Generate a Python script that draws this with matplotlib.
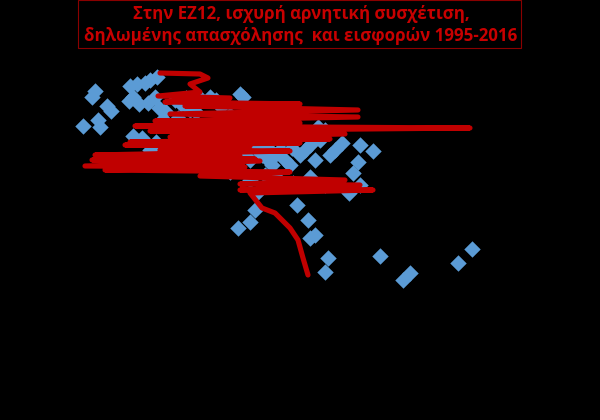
import matplotlib
matplotlib.use("Agg")
import matplotlib.pyplot as plt
from matplotlib.patches import Rectangle

TITLE = "Στην ΕΖ12, ισχυρή αρνητική συσχέτιση,\nδηλωμένης απασχόλησης  και εισφορών 1995-2016"

# scatter: declared employment (x) vs contributions (y), arbitrary index units
emp = [0.75, 3, 3.75, 4.5, 5, 6.75, 7.75, 12.5, 14.25, 12.25, 13.25, 16.25, 17.5, 19.25,
       18.75, 17, 14.75, 19.75, 13.25, 15.5, 20.75, 21.25, 23.75, 25.25, 24.5, 26.5, 27.5,
       29, 30, 32.5, 34, 35.25, 40, 40.75, 37.5, 36.5, 35, 37.5, 19, 23.5, 17.5, 21.25, 30,
       32.5, 37.5, 41.25, 42.5, 43.75, 45.5, 47, 48, 48.75, 50, 51.25, 53, 53.75, 55, 56.25,
       57.5, 58.75, 60, 59.5, 61.25, 62.5, 63.75, 65.5, 70, 73.25, 69.5, 68.25, 70, 67.25,
       61.25, 57.5, 53.25, 49.25, 46.25, 42.5, 37.5, 44.25, 43.75, 42.5, 39.5, 54.25, 57,
       58.75, 57.5, 62, 61.25, 75, 82.5, 80.75, 94.5, 98, 46.25, 50.75, 52.5, 47.5, 26.25]
contrib = [77, 91.5, 94.5, 80, 76.5, 87, 84.5, 97, 98, 89.5, 91.5, 98.5, 100, 101.5,
           91.5, 88.5, 88, 86, 72, 71, 80.5, 84.5, 90, 88, 81, 91, 85,
           84, 91, 91.5, 90, 86.5, 93, 91.5, 82.5, 78, 71, 70, 69, 68, 65, 65, 65,
           64, 61, 62.5, 60, 66, 62.5, 60, 57.5, 62.5, 65, 60, 66, 70, 62.5, 65,
           67.5, 60, 70, 76.5, 75, 62.5, 65, 68.5, 67.5, 64.5, 59, 53.5, 47.5, 43.5,
           47.5, 51.5, 48.5, 51, 52.5, 50, 54, 43.5, 35, 29, 26, 37.5, 30,
           22.5, 21, 11, 4, 12, 3.5, 0, 8.5, 15.5, 67.5, 70, 57.5, 65, 65]

# fitted curve as it was drawn (points in original, unsorted order)
fit_x = [20, 30, 32, 27.5, 30, 19.5, 37.5, 21.25, 55, 26.25, 69.5, 22.5, 69.5, 18.75, 55,
         13.75, 97.5, 17.5, 66.25, 22.5, 62.5, 12.5, 55, 11.25, 42.5, 20, 52.5, 3.75, 40,
         5, 43.75, 3, 45, 1.25, 41.25, 6.25, 52.5, 30, 66.25, 40, 70, 40, 73.25, 42.5, 45.5,
         48.75, 52.5, 54.5, 55.75, 57]
fit_y = [103.5, 103, 101, 98, 94, 92, 91, 89, 88, 87, 85, 83, 81.5, 79.5, 78.5,
         77, 76, 74.5, 73, 71.5, 70.5, 69, 68.5, 67.5, 67, 65, 64.5, 62.5, 62,
         61, 60.5, 60, 59.5, 57, 56.5, 55, 54, 52, 50, 48, 47.5, 45, 45, 43.5, 36,
         33.5, 26, 20, 11, 2.5]

BLUE = "#5B9BD5"
RED = "#C00000"

fig = plt.figure(figsize=(6, 4.2), dpi=100, facecolor="black")
ax = fig.add_axes([0.1, 120 / 420, 440 / 600, 240 / 420])
ax.set_facecolor("black")
ax.scatter(emp, contrib, marker="D", s=70, color=BLUE, linewidths=0, zorder=2)
ax.plot(fit_x, fit_y, color=RED, lw=3.7, solid_joinstyle="round", solid_capstyle="round",
        zorder=3)
ax.set_xlim(-5, 105)
ax.set_ylim(-10, 110)
ax.axis("off")

# title box
fig.patches.append(Rectangle((78 / 600, 1 - 48 / 420), (521 - 78) / 600, 48 / 420,
                             transform=fig.transFigure, fill=False, edgecolor="#8a0000",
                             lw=0.8))
fig.text(301 / 600, 1 - 25 / 420, TITLE, ha="center", va="center", color="#C80000",
         fontsize=12.2, fontweight="bold", family=["Open Sans", "DejaVu Sans"],
         linespacing=1.25)

fig.savefig("out.png", dpi=100, facecolor="black")
